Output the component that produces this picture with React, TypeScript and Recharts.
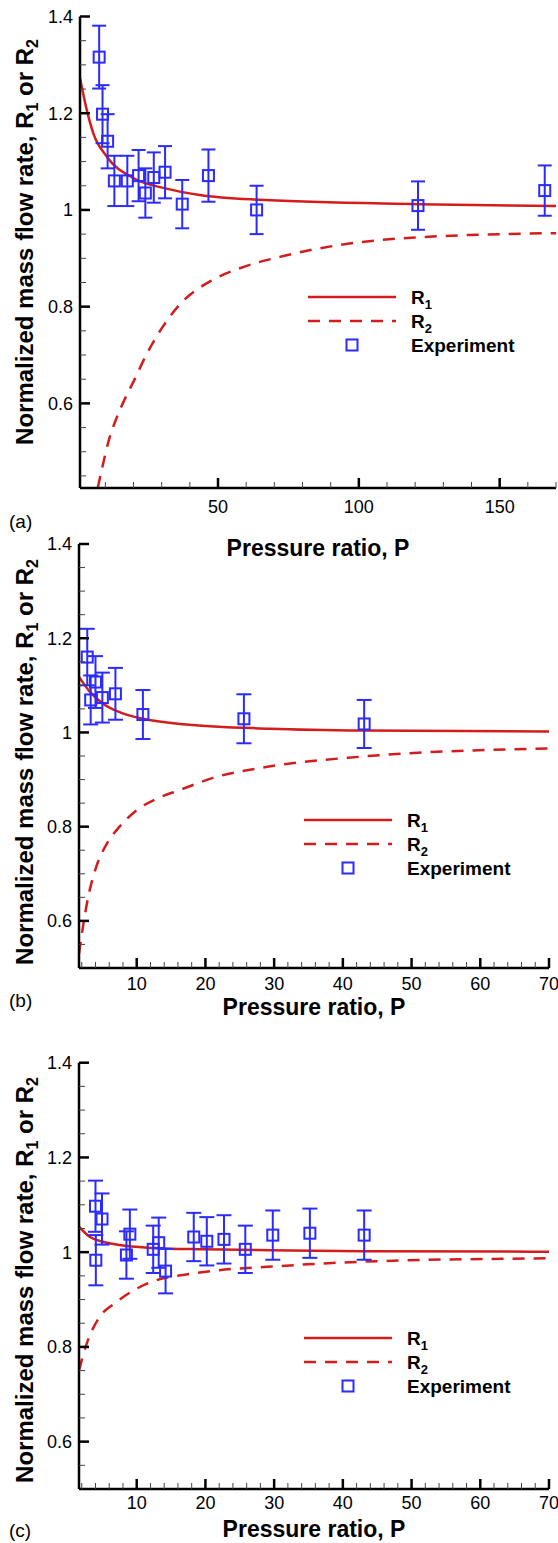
import React from 'react';
import { ComposedChart, Line, Scatter, ErrorBar, XAxis, YAxis, Legend } from 'recharts';

const RED = '#d41c1c';
const BLUE = '#2b2bff';
const FONT = '"Liberation Sans", Arial, Helvetica, sans-serif';

// ---- panel (a) ----
const expA_P = [7.8, 9.0, 10.8, 13.2, 17.8, 21.8, 24.2, 27.2, 31.2, 37.3, 46.6, 63.7, 121, 166];
const expA_R = [1.316, 1.198, 1.142, 1.06, 1.06, 1.071, 1.035, 1.067, 1.078, 1.012, 1.071, 1.0, 1.009, 1.04];
const expA_err = [0.065, 0.06, 0.056, 0.052, 0.052, 0.053, 0.051, 0.052, 0.054, 0.05, 0.054, 0.05, 0.05, 0.052];
const r1A_P = [1, 3.4, 5.7, 10.4, 19.9, 31.7, 43.5, 64.8, 121, 170];
const r1A_R = [1.273, 1.207, 1.159, 1.111, 1.066, 1.044, 1.031, 1.021, 1.012, 1.008];
const r2A_P = [7.3, 9, 11.3, 14, 17, 20, 24.5, 30, 36.5, 48, 58, 72, 96, 120, 170];
const r2A_R = [0.425, 0.47, 0.525, 0.57, 0.61, 0.645, 0.7, 0.755, 0.805, 0.855, 0.88, 0.903, 0.93, 0.943, 0.952];

// ---- panel (b) ----
const expB_P = [2.8, 3.3, 4.0, 5.0, 6.9, 10.9, 25.6, 43.1];
const expB_R = [1.16, 1.069, 1.107, 1.074, 1.082, 1.038, 1.029, 1.018];
const expB_err = [0.06, 0.052, 0.055, 0.053, 0.055, 0.052, 0.052, 0.051];
const r1B_P = [1.6, 3.2, 5.1, 7.5, 10.9, 17.2, 29.4, 43, 70];
const r1B_R = [1.118, 1.086, 1.061, 1.043, 1.029, 1.017, 1.008, 1.004, 1.002];
const r2B_P = [1.6, 2.2, 3, 4, 5.5, 7.5, 10, 13, 16.3, 21, 29, 43, 70];
const r2B_R = [0.53, 0.59, 0.655, 0.71, 0.76, 0.8, 0.835, 0.86, 0.878, 0.903, 0.927, 0.949, 0.966];

// ---- panel (c) ----
const expC_P = [4.0, 4.95, 4.05, 8.5, 9.0, 12.4, 13.2, 14.2, 18.3, 20.2, 22.7, 25.8, 29.8, 35.2, 43.1];
const expC_R = [1.097, 1.07, 0.983, 0.994, 1.038, 1.006, 1.02, 0.96, 1.032, 1.023, 1.027, 1.006, 1.036, 1.04, 1.036];
const expC_err = [0.054, 0.054, 0.053, 0.05, 0.052, 0.05, 0.053, 0.047, 0.051, 0.051, 0.051, 0.05, 0.052, 0.052, 0.052];
const r1C_P = [1.6, 3.2, 5.1, 7.5, 12.4, 19.7, 29.4, 43, 70];
const r1C_R = [1.054, 1.032, 1.022, 1.015, 1.009, 1.006, 1.004, 1.002, 1.001];
const r2C_P = [1.6, 2.8, 4.6, 6.8, 10, 12.9, 17.2, 22, 28.9, 43, 70];
const r2C_R = [0.751, 0.81, 0.863, 0.892, 0.923, 0.941, 0.953, 0.962, 0.969, 0.98, 0.987];

// ticks
const yMajor = [0.6, 0.8, 1, 1.2, 1.4];
const yTicksA = [0.45, 0.5, 0.55, 0.6, 0.65, 0.7, 0.75, 0.8, 0.85, 0.9, 0.95, 1, 1.05, 1.1, 1.15, 1.2, 1.25, 1.3, 1.35, 1.4];
const yTicksBC = [0.55, 0.6, 0.65, 0.7, 0.75, 0.8, 0.85, 0.9, 0.95, 1, 1.05, 1.1, 1.15, 1.2, 1.25, 1.3, 1.35, 1.4];
const xMajorA = [50, 100, 150];
const xTicksA = [10, 20, 30, 40, 50, 60, 70, 80, 90, 100, 110, 120, 130, 140, 150, 160, 170];
const xMajorBC = [10, 20, 30, 40, 50, 60, 70];
const xTicksBC = [2, 4, 6, 8, 10, 12, 14, 16, 18, 20, 22, 24, 26, 28, 30, 32, 34, 36, 38, 40, 42, 44, 46, 48, 50, 52, 54, 56, 58, 60, 62, 64, 66, 68, 70];

const TM = 8;

const rows = (ps: number[], vs: number[], es?: number[]) =>
  ps.map((p, i) => ({ p, v: vs[i], err: es ? es[i] : 0 }));

const isMajor = (v: number, majors: number[]) => majors.some((m) => Math.abs(m - v) < 1e-6);

const YTick = (props: any) => {
  const { x, y, payload } = props;
  const major = isMajor(payload.value, yMajor);
  const ax = x + TM;
  return (
    <g>
      <line x1={ax} x2={ax + (major ? 10 : 6)} y1={y} y2={y} stroke={major ? '#000' : '#444'} strokeWidth={major ? 2.5 : 1} />
      {major && (
        <text x={ax - 7} y={y} dy="0.36em" textAnchor="end" fontSize={18} fill="#000" fontFamily={FONT}>
          {String(Math.round(payload.value * 10) / 10)}
        </text>
      )}
    </g>
  );
};

const XTick = (props: any) => {
  const { x, y, payload, majors, labelDy } = props;
  const major = isMajor(payload.value, majors);
  const ay = y - TM;
  return (
    <g>
      <line x1={x} x2={x} y1={ay} y2={ay - (major ? 10 : 6)} stroke={major ? '#000' : '#444'} strokeWidth={major ? 2.5 : 1} />
      {major && (
        <text x={x} y={ay + labelDy} dy="0.36em" textAnchor="middle" fontSize={18} fill="#000" fontFamily={FONT}>
          {payload.value}
        </text>
      )}
    </g>
  );
};

const YTitle = ({ cx, cy }: any) => (
  <text
    x={cx}
    y={cy}
    dy="0.36em"
    textAnchor="middle"
    transform={`rotate(-90, ${cx}, ${cy})`}
    fontSize={24}
    fontWeight="bold"
    fontFamily={FONT}
    fill="#000"
  >
    Normalized mass flow rate, R<tspan fontSize={16} dy={5}>1</tspan>
    <tspan dy={-5}> or R</tspan>
    <tspan fontSize={16} dy={5}>2</tspan>
  </text>
);

const XTitle = ({ cx, cy, tag, tagY }: any) => (
  <g>
    <text x={cx} y={cy} dy="0.36em" textAnchor="middle" fontSize={23} fontWeight="bold" fontFamily={FONT} fill="#000">
      Pressure ratio, P
    </text>
    <text x={9} y={tagY} dy="0.36em" textAnchor="start" fontSize={19} fontFamily={FONT} fill="#000">
      {tag}
    </text>
  </g>
);

const LegendBox = () => (
  <svg width={240} height={72} style={{ display: 'block', overflow: 'visible' }}>
    <line x1={0} x2={88} y1={10} y2={10} stroke={RED} strokeWidth={2.5} />
    <text x={103} y={10} dy="0.36em" fontSize={19} fontWeight="bold" fontFamily={FONT}>
      R<tspan fontSize={13} dy={5}>1</tspan>
    </text>
    <line x1={0} x2={88} y1={34} y2={34} stroke={RED} strokeWidth={2.5} strokeDasharray="12 9" />
    <text x={103} y={34} dy="0.36em" fontSize={19} fontWeight="bold" fontFamily={FONT}>
      R<tspan fontSize={13} dy={5}>2</tspan>
    </text>
    <rect x={38.5} y={52.5} width={11} height={11} fill="none" stroke={BLUE} strokeWidth={2} />
    <text x={103} y={58} dy="0.36em" fontSize={19} fontWeight="bold" fontFamily={FONT}>
      Experiment
    </text>
  </svg>
);

const Square = (props: any) => {
  const { cx, cy } = props;
  if (cx == null || cy == null) return null;
  return <rect x={cx - 5.5} y={cy - 5.5} width={11} height={11} fill="none" stroke={BLUE} strokeWidth={2} />;
};

interface PanelCfg {
  tag: string;
  top: number;
  height: number;
  plotTop: number;
  plotBottom: number;
  plotLeft: number;
  plotRight: number;
  xDomain: [number, number];
  yDomain: [number, number];
  xTicks: number[];
  xMajor: number[];
  yTicks: number[];
  exp: { p: number; v: number; err: number }[];
  r1: { p: number; v: number }[];
  r2: { p: number; v: number }[];
  capW: number;
  labelDy: number;
  titleDy: number;
  tagDy: number;
  yTitleY: number;
  legendLeft: number;
  legendTop: number;
}

const panels: PanelCfg[] = [
  {
    tag: '(a)', top: 0, height: 560, plotTop: 16.5, plotBottom: 488, plotLeft: 80, plotRight: 556,
    xDomain: [1, 170], yDomain: [0.425, 1.4], xTicks: xTicksA, xMajor: xMajorA, yTicks: yTicksA,
    exp: rows(expA_P, expA_R, expA_err), r1: rows(r1A_P, r1A_R), r2: rows(r2A_P, r2A_R),
    capW: 7, labelDy: 19, titleDy: 60, tagDy: 33, yTitleY: 242, legendLeft: 308, legendTop: 287,
  },
  {
    tag: '(b)', top: 520, height: 520, plotTop: 24, plotBottom: 448, plotLeft: 79, plotRight: 549,
    xDomain: [1.6, 70], yDomain: [0.5, 1.4], xTicks: xTicksBC, xMajor: xMajorBC, yTicks: yTicksBC,
    exp: rows(expB_P, expB_R, expB_err), r1: rows(r1B_P, r1B_R), r2: rows(r2B_P, r2B_R),
    capW: 7.5, labelDy: 16, titleDy: 39, tagDy: 32, yTitleY: 242, legendLeft: 304, legendTop: 290,
  },
  {
    tag: '(c)', top: 1040, height: 503, plotTop: 22.7, plotBottom: 449, plotLeft: 79, plotRight: 549,
    xDomain: [1.6, 70], yDomain: [0.5, 1.4], xTicks: xTicksBC, xMajor: xMajorBC, yTicks: yTicksBC,
    exp: rows(expC_P, expC_R, expC_err), r1: rows(r1C_P, r1C_R), r2: rows(r2C_P, r2C_R),
    capW: 7.5, labelDy: 14, titleDy: 40, tagDy: 41, yTitleY: 240, legendLeft: 304, legendTop: 288,
  },
];

function Panel({ c }: { c: PanelCfg }) {
  const axis = { stroke: '#000', strokeWidth: 2.5 };
  const cx = (c.plotLeft + c.plotRight) / 2;
  return (
    <div style={{ position: 'absolute', left: 0, top: c.top, width: 558, height: c.height }}>
      <ComposedChart
        width={558}
        height={c.height}
        margin={{ top: c.plotTop, right: 558 - c.plotRight, bottom: 0, left: 0 }}
      >
        <XAxis
          type="number"
          dataKey="p"
          domain={c.xDomain}
          allowDataOverflow
          ticks={c.xTicks}
          interval={0}
          tickLine={false}
          tickSize={0}
          tickMargin={TM}
          tick={<XTick majors={c.xMajor} labelDy={c.labelDy} />}
          axisLine={axis}
          height={c.height - c.plotBottom}
          label={<XTitle cx={cx} cy={c.plotBottom + c.titleDy} tag={c.tag} tagY={c.plotBottom + c.tagDy} />}
        />
        <YAxis
          type="number"
          dataKey="v"
          domain={c.yDomain}
          allowDataOverflow
          ticks={c.yTicks}
          interval={0}
          tickLine={false}
          tickSize={0}
          tickMargin={TM}
          tick={<YTick />}
          axisLine={axis}
          width={c.plotLeft}
          label={<YTitle cx={24} cy={c.yTitleY} />}
        />
        <Line data={c.r1} dataKey="v" type="monotone" stroke={RED} strokeWidth={2.5} dot={false} isAnimationActive={false} />
        <Line
          data={c.r2}
          dataKey="v"
          type="monotone"
          stroke={RED}
          strokeWidth={2.5}
          strokeDasharray="12 9"
          dot={false}
          isAnimationActive={false}
        />
        <Scatter data={c.exp} dataKey="v" shape={Square} isAnimationActive={false}>
          <ErrorBar dataKey="err" direction="y" width={c.capW} stroke={BLUE} strokeWidth={2} />
        </Scatter>
        <Legend
          layout="vertical"
          align="center"
          verticalAlign="middle"
          content={<LegendBox />}
          wrapperStyle={{ left: c.legendLeft, top: c.legendTop, width: 240 }}
        />
      </ComposedChart>
    </div>
  );
}

export default function App() {
  return (
    <div style={{ position: 'absolute', left: 0, top: 0, width: 558, height: 1543, background: '#fff', fontFamily: FONT }}>
      {panels.map((c) => (
        <Panel key={c.tag} c={c} />
      ))}
    </div>
  );
}
